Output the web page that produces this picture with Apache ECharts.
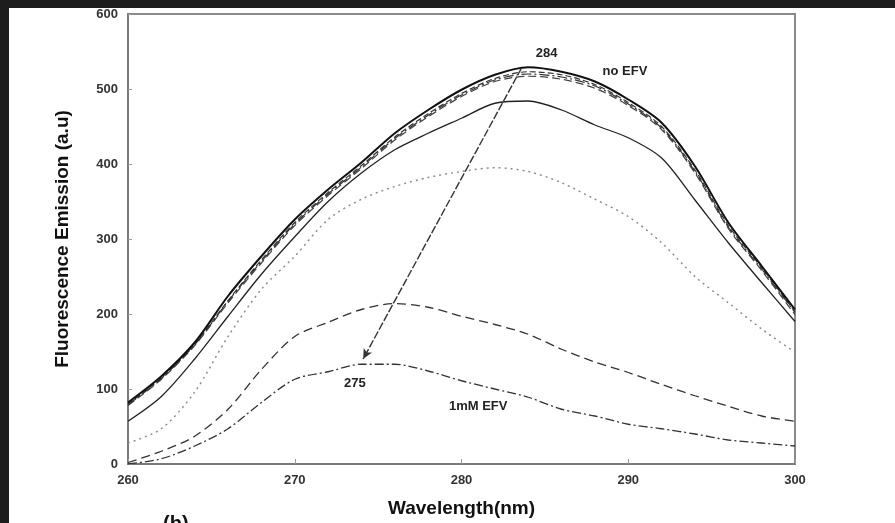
<!DOCTYPE html>
<html>
<head>
<meta charset="utf-8">
<script src="https://cdn.jsdelivr.net/npm/echarts@6/dist/echarts.min.js"></script>
<style>html,body{margin:0;padding:0;background:#fff;}#c{width:895px;height:523px;}</style>
</head>
<body>
<div id="c"></div>
<script>
const wavelengths = [260,262,264,266,268,270,272,274,276,278,280,282,284,286,288,290,292,294,296,298,300];
const noEFV     = [82,117,162,224,277,326,366,402,441,472,499,519,529,523,510,486,455,397,322,264,206];
const conc1     = [80,115,160,218,272,322,362,398,436,467,494,514,523,519,506,482,450,392,318,262,203];
const conc2     = [79,114,159,217,270,320,360,396,434,465,492,512,520,516,504,480,448,390,316,260,202];
const conc3     = [78,113,158,215,268,318,358,394,432,463,490,510,517,513,501,478,446,388,314,258,199];
const conc4     = [57,90,140,197,253,303,350,388,419,441,461,481,484,472,452,435,408,352,295,242,190];
const conc5     = [28,47,96,170,233,277,326,353,370,382,390,395,390,375,353,330,295,250,215,180,149];
const conc6     = [2,17,37,73,126,170,189,206,214,209,197,186,173,153,136,122,106,91,77,64,57];
const mM1EFV    = [0,7,24,47,82,113,123,133,133,124,111,100,89,73,64,53,47,40,32,28,24];
const xTicks = [260,270,280,290,300];
const yTicks = [0,100,200,300,400,500,600];
const arrowFrom = [283.6, 528];
const arrowTo = [274.1, 140];
const annotations = [
  {text:'284', x:285.1, y:548},
  {text:'no EFV', x:289.8, y:523},
  {text:'275', x:273.6, y:108},
  {text:'1mM EFV', x:281.0, y:77}
];

function pairs(ys){ return wavelengths.map((w,i)=>[w, ys[i]]); }
function line(name, ys, color, width, type){
  return {name, type:'line', data:pairs(ys), showSymbol:false, smooth:0.3,
    lineStyle:{color, width, type}, silent:true, animation:false, z:3};
}

const chart = echarts.init(document.getElementById('c'), null, {renderer:'canvas'});
chart.setOption({
  backgroundColor:'#ffffff',
  animation:false,
  grid:{left:128, right:100, top:14, bottom:57, show:true, borderColor:'#8a8a8a', borderWidth:2, backgroundColor:'transparent'},
  xAxis:{type:'value', min:260, max:300, interval:10,
    name:'Wavelength(nm)', nameLocation:'middle', nameGap:35,
    nameTextStyle:{fontFamily:'Liberation Sans', fontWeight:'bold', fontSize:19, color:'#111'},
    axisLine:{lineStyle:{color:'#7a7a7a', width:2}},
    axisTick:{inside:true, length:5, lineStyle:{color:'#999'}},
    axisLabel:{fontFamily:'Liberation Sans', fontWeight:'bold', fontSize:13, color:'#333', margin:10,
      formatter:v=> xTicks.includes(v)? String(v):''},
    splitLine:{show:false}},
  yAxis:{type:'value', min:0, max:600, interval:100,
    name:'Fluorescence Emission (a.u)', nameLocation:'middle', nameGap:56,
    nameTextStyle:{fontFamily:'Liberation Sans', fontWeight:'bold', fontSize:19, color:'#111'},
    axisLine:{show:true, lineStyle:{color:'#7a7a7a', width:2}},
    axisTick:{show:true, inside:true, length:4, lineStyle:{color:'#999'}},
    axisLabel:{fontFamily:'Liberation Sans', fontWeight:'bold', fontSize:13, color:'#333', margin:10,
      formatter:v=> yTicks.includes(v)? String(v):''},
    splitLine:{show:false}},
  series:[
    line('c6', conc6, '#333', 1.3, [9,5]),
    line('1mM', mM1EFV, '#333', 1.3, [9,3,2,3]),
    line('c5', conc5, '#888', 1.4, [2,4]),
    line('c4', conc4, '#222', 1.3, 'solid'),
    line('c3', conc3, '#444', 1.2, [8,4]),
    line('c2', conc2, '#333', 1.2, [10,3,2,3]),
    line('c1', conc1, '#333', 1.2, [6,3]),
    Object.assign(line('noEFV', noEFV, '#111', 2, 'solid'), {
      markLine:{silent:true, symbol:['none','arrow'], symbolSize:[7,10], animation:false,
        lineStyle:{color:'#333', width:1.4, type:[8,2]}, label:{show:false},
        data:[[{coord:arrowFrom},{coord:arrowTo}]]},
      markPoint:{silent:true, symbol:'circle', symbolSize:0, animation:false,
        label:{show:true, fontFamily:'Liberation Sans', fontWeight:'bold', fontSize:13, color:'#222',
          formatter:p=>p.name},
        data:annotations.map(a=>({name:a.text, coord:[a.x,a.y]}))}
    })
  ],
  graphic:[
    {type:'rect', shape:{x:0,y:0,width:895,height:8}, style:{fill:'#1d1d1d'}, z:100},
    {type:'rect', shape:{x:0,y:0,width:9,height:523}, style:{fill:'#1d1d1d'}, z:100},
    {type:'text', left:163, top:514, style:{text:'(b)', font:'bold 20px "Liberation Sans"', fill:'#111'}, z:50}
  ]
});
</script>
</body>
</html>
